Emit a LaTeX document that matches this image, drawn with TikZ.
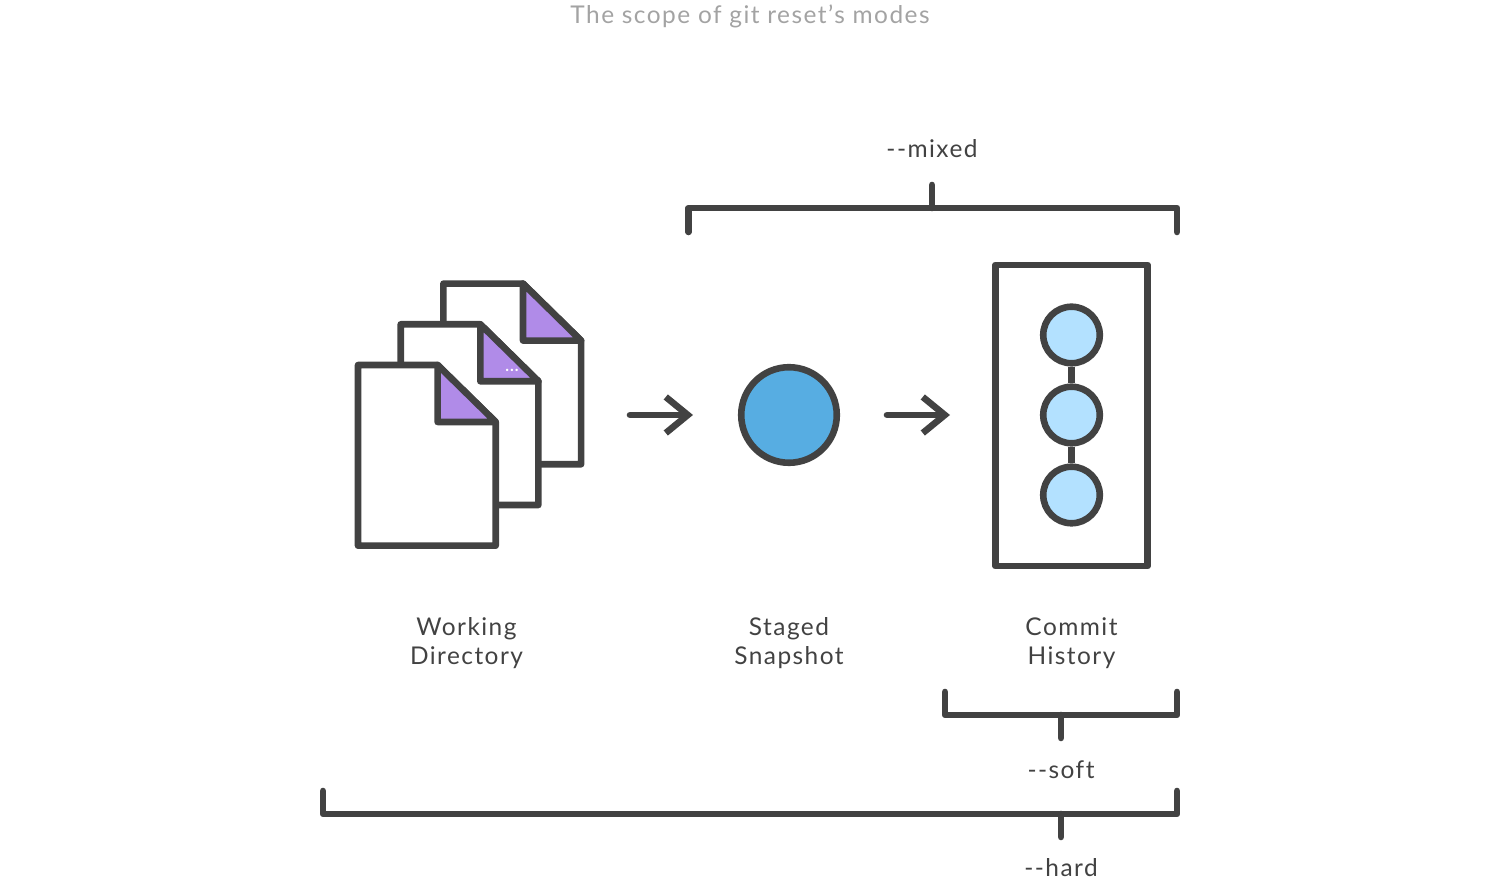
\documentclass[tikz,border=0pt]{standalone}
\usepackage{fontspec}
\setmainfont[LetterSpace=6,Ligatures=NoCommon]{Lato}
\usetikzlibrary{arrows.meta}
\definecolor{inkdark}{HTML}{424242}
\definecolor{titlegray}{HTML}{A3A3A3}
\definecolor{foldpurple}{HTML}{B08BE8}
\definecolor{stagedblue}{HTML}{57ADE2}
\definecolor{commitblue}{HTML}{B3E1FF}
\tikzset{
    outline/.style={draw=inkdark,line width=.066cm,line join=round},
    bracket/.style={outline,line cap=round},
    commit/.style={outline,circle,fill=commitblue,minimum size=.565cm,inner sep=0pt},
    caption/.style={text=inkdark,font=\fontsize{6.95}{8.15}\selectfont,align=center},
}
\begin{document}
\begin{tikzpicture}[x=.01cm,y=-.01cm,>={Straight Barb[length=.22cm,width=.36cm]}]
    \useasboundingbox (0,0) rectangle (1500,883);

    \node[caption,text=titlegray] (title) at (750,16) {The scope of git reset’s modes};

    % working directory
    \foreach \dx/\dy in {85.4/-81.4,42.7/-40.7,0/0} {
    \begin{scope}[shift={(\dx,\dy)}]
    \draw[outline,fill=white] (358,365) -- (437.6,365) -- (495.7,422) -- (495.7,545.7)
        -- (358,545.7) -- cycle;
    \draw[outline,fill=foldpurple] (437.6,365) -- (495.7,422) -- (437.6,422) -- cycle;
    \end{scope}
    }
    \node[inner sep=0pt,text=white,font=\bfseries\fontsize{4.5}{4.5}\selectfont] (dots) at (512,370) {...};

    % staged snapshot
    \node[outline,circle,fill=stagedblue,minimum size=.955cm,inner sep=0pt] (staged) at (789,415) {};

    % commit history
    \node[outline,rectangle,minimum width=1.524cm,minimum height=3.01cm,inner sep=0pt] (history) at (1071.5,415.5) {};
    \node[commit] (c1) at (1071.5,335) {};
    \node[commit] (c2) at (1071.5,415) {};
    \node[commit] (c3) at (1071.5,495) {};
    \draw[outline] (c1) -- (c2);
    \draw[outline] (c2) -- (c3);

    % arrows
    \coordinate (a1) at (630,415);
    \coordinate (a2) at (693,415);
    \coordinate (a3) at (887,415);
    \coordinate (a4) at (950,415);
    \draw[->,bracket] (a1) -- (a2);
    \draw[->,bracket] (a3) -- (a4);

    % captions
    \node[caption] (working) at (466.5,643) {Working\\Directory};
    \node[caption] (snapshot) at (789,643) {Staged\\Snapshot};
    \node[caption] (commits) at (1071.5,643) {Commit\\History};

    % mixed
    \node[caption] (mixed) at (932,149) {-{}-mixed};
    \draw[bracket] (688.5,232) -- (688.5,208) -- (1177,208) -- (1177,232);
    \draw[bracket] (932,208) -- (932,185);

    % soft
    \draw[bracket] (945,692) -- (945,715) -- (1177,715) -- (1177,692);
    \draw[bracket] (1061,715) -- (1061,738);
    \node[caption] (soft) at (1061,770) {-{}-soft};

    % hard
    \draw[bracket] (323,791) -- (323,814) -- (1177,814) -- (1177,791);
    \draw[bracket] (1061,814) -- (1061,837);
    \node[caption] (hard) at (1061,868) {-{}-hard};
\end{tikzpicture}
\end{document}
